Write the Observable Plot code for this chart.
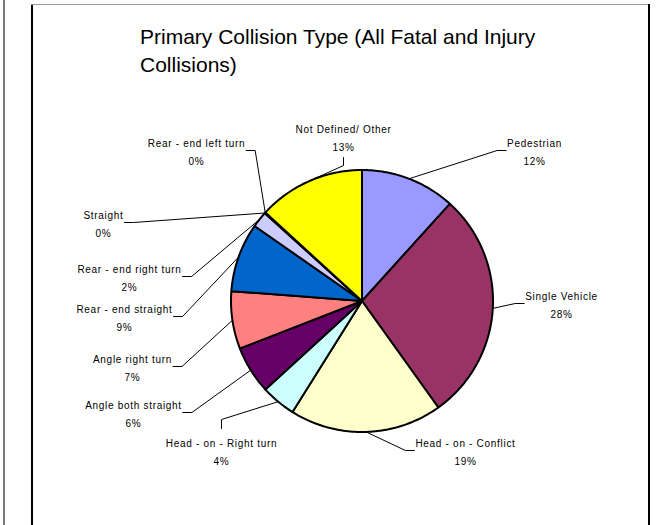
<!DOCTYPE html>
<html>
<head>
<meta charset="utf-8">
<script src="https://cdn.jsdelivr.net/npm/d3@7"></script>
<script src="https://cdn.jsdelivr.net/npm/@observablehq/plot@0.6"></script>
<style>
  body { margin: 0; background: #fff; }
  #wrap { position: relative; width: 660px; height: 525px; overflow: hidden; background: #fff; font-family: "Liberation Sans", Arial, sans-serif; }
  .ln { position: absolute; }
  #title { position: absolute; left: 140px; top: 23px; font-size: 21px; line-height: 28px; color: #000; white-space: nowrap; }
  #chart { position: absolute; left: 0; top: 90px; }
</style>
</head>
<body>
<div id="wrap">
  <div class="ln" style="left:3px;top:0;width:2px;height:525px;background:#7a7a7a"></div>
  <div class="ln" style="left:31px;top:4px;width:619px;height:1px;background:#999"></div>
  <div class="ln" style="left:31px;top:5px;width:2px;height:520px;background:#000"></div>
  <div class="ln" style="left:648px;top:4px;width:2px;height:521px;background:#000"></div>
  <div id="title"><div>Primary Collision Type (All Fatal and Injury</div><div>Collisions)</div></div>
  <div id="chart"></div>
</div>
<script>
// ---- data ----
const names = [
  "Pedestrian",
  "Single Vehicle",
  "Head - on - Conflict",
  "Head - on - Right turn",
  "Angle both straight",
  "Angle right turn",
  "Rear - end straight",
  "Rear - end right turn",
  "Straight",
  "Rear - end left turn",
  "Not Defined/ Other"
];
const values = [11.7, 28.4, 18.8, 4.3, 5.9, 7.1, 8.5, 2.0, 0.05, 0.05, 13.2];
const colors = ["#9999FF", "#993366", "#FFFFCC", "#CCFFFF", "#660066", "#FF8080", "#0066CC", "#CCCCFF", "#000080", "#FF00FF", "#FFFF00"];
const pctLabels = values.map(v => Math.round(v) + "%");

// ---- layout (page pixels) ----
const W = 660, H = 435, TOP = 90, CX = 361.5, CY = 300.5, R = 131;
// label block centre and the side the leader attaches to
const labelLayout = [
  [534, 150, "left"],
  [561, 303, "left"],
  [465, 450, "left"],
  [221, 450, "top"],
  [133, 412, "right"],
  [132, 366, "right"],
  [124, 316, "right"],
  [129, 276, "right"],
  [103, 222, "right"],
  [196, 150, "right"],
  [343, 136, "bottom"]
];
const LS = 0.7; // letter spacing px
const FONT = "10px 'Liberation Sans', Arial, sans-serif";

const ctx = document.createElement("canvas").getContext("2d");
ctx.font = FONT;
const tw = s => ctx.measureText(s).width + LS * s.length;

const toUx = px => (px - CX) / R;
const toUy = py => -(py - CY) / R;

const total = d3.sum(values);
let acc = 0;
const slices = values.map((v, i) => {
  const a0 = acc / total * 2 * Math.PI; acc += v;
  const a1 = acc / total * 2 * Math.PI;
  return {name: names[i], a0, a1, mid: (a0 + a1) / 2};
});

const slicePts = slices.flatMap(s => {
  const n = Math.max(2, Math.ceil((s.a1 - s.a0) / (Math.PI / 180)));
  const pts = [{name: s.name, x: 0, y: 0}];
  for (let k = 0; k <= n; k++) {
    const a = s.a0 + (s.a1 - s.a0) * k / n;
    pts.push({name: s.name, x: Math.sin(a), y: Math.cos(a)});
  }
  pts.push({name: s.name, x: 0, y: 0});
  return pts;
});

const labels = names.map((nm, i) => {
  const [px, py] = labelLayout[i];
  return {name: nm, text: nm + "\n" + pctLabels[i], x: toUx(px), y: toUy(py)};
});

const leaderPts = names.flatMap((nm, i) => {
  const [px, py, side] = labelLayout[i];
  const w = Math.max(tw(nm), tw(pctLabels[i]));
  let ax, ay, ex, ey;
  if (side === "left") { ax = px - w / 2 - 1; ay = py; ex = ax - 9; ey = ay; }
  else if (side === "right") { ax = px + w / 2 + 1; ay = py; ex = ax + 9; ey = ay; }
  else if (side === "bottom") { ax = px; ay = py + 21; ex = ax; ey = ay + 8; }
  else { ax = px; ay = py - 22; ex = ax; ey = ay - 9; }
  const m = slices[i].mid;
  return [
    {name: nm, x: toUx(ax), y: toUy(ay)},
    {name: nm, x: toUx(ex), y: toUy(ey)},
    {name: nm, x: Math.sin(m), y: Math.cos(m)}
  ];
});

const chart = Plot.plot({
  width: W,
  height: H,
  margin: 0,
  x: {domain: [-CX / R, (W - CX) / R], axis: null},
  y: {domain: [-(H - (CY - TOP)) / R, (CY - TOP) / R], axis: null},
  color: {domain: names, range: colors},
  style: {fontFamily: "'Liberation Sans', Arial, sans-serif", letterSpacing: LS + "px", background: "transparent", color: "#000"},
  marks: [
    Plot.line(leaderPts, {x: "x", y: "y", z: "name", stroke: "#000", strokeWidth: 1}),
    Plot.line(slicePts, {x: "x", y: "y", z: "name", fill: "name", stroke: "#000", strokeWidth: 2, strokeLinejoin: "round"}),
    Plot.text(labels, {x: "x", y: "y", text: "text", lineAnchor: "middle", lineHeight: 1.8, fontSize: 10, fill: "#000"})
  ]
});
document.getElementById("chart").appendChild(chart);
</script>
</body>
</html>
